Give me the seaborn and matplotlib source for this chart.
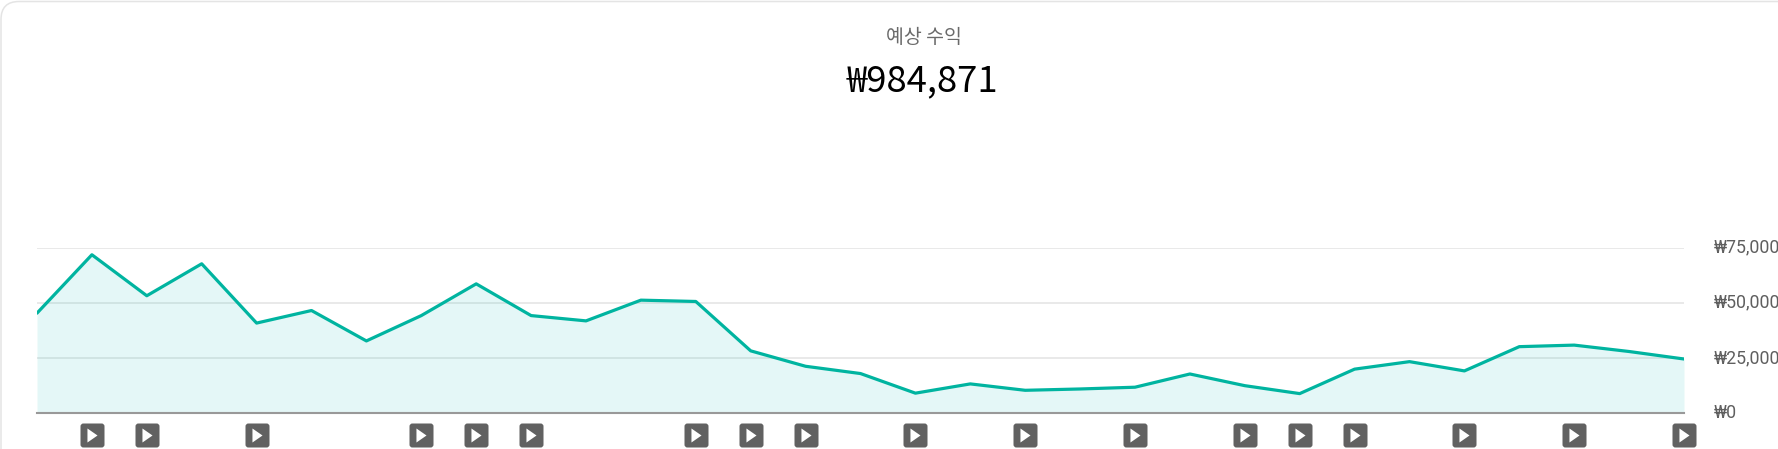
import matplotlib
matplotlib.use("Agg")
import matplotlib.pyplot as plt
from matplotlib.patches import FancyBboxPatch
from matplotlib.path import Path
import pandas as pd
import seaborn as sns

title = "예상 수익"
total = "₩984,871"
revenue = [45300, 71800, 53200, 67700, 40800, 46500, 32700, 44200, 58600, 44200,
           41800, 51200, 50600, 28200, 21200, 17900, 9000, 13200, 10300, 10900,
           11700, 17700, 12400, 8800, 19900, 23300, 19100, 30100, 30800, 27900, 24500]
events = [1, 2, 4, 7, 8, 9, 12, 13, 14, 16, 18, 20, 22, 23, 24, 26, 28, 30]
y_ticks = [0, 25000, 50000, 75000]
y_labels = ["₩0", "₩25,000", "₩50,000", "₩75,000"]

sns.set_theme(style="white")
plt.rcParams["font.family"] = ["Roboto", "Noto Sans CJK KR", "DejaVu Sans"]

df = pd.DataFrame({"day": range(len(revenue)), "revenue": revenue})

fig = plt.figure(figsize=(17.78, 4.49), dpi=100)
ax = fig.add_axes([37 / 1778, 36 / 449, 1647 / 1778, 165.3 / 449])

# rounded card outline, runs off the right and bottom edges
card = FancyBboxPatch((1, -40), 1900, 40 + 447.5, boxstyle="round,pad=0,rounding_size=18",
                      transform=None, fc="white", ec="#e4e4e4", lw=1.1, zorder=-5)
fig.patches.append(card)
ax.patch.set_alpha(0)

ax.yaxis.grid(True, color="#e9e9e9", lw=1.4, zorder=0)
ax.set_axisbelow(True)
ax.fill_between(df["day"], df["revenue"], color="#00bab5", alpha=0.105, lw=0, zorder=1)
sns.lineplot(data=df, x="day", y="revenue", color="#00b4a0", lw=2.3, ax=ax, zorder=2)

ax.set_xlim(0, len(revenue) - 1)
ax.set_ylim(0, 75000)
ax.set_xticks([])
ax.set_xlabel("")
ax.set_ylabel("")
ax.yaxis.tick_right()
ax.set_yticks(y_ticks)
ax.set_yticklabels(y_labels, color="#5f5f5f", fontsize=12.8, va="center")
ax.tick_params(axis="y", length=0, pad=21.5)
for name in ["top", "left", "right"]:
    ax.spines[name].set_visible(False)
ax.spines["bottom"].set_color("#999999")
ax.spines["bottom"].set_linewidth(1.5)

# play buttons under the axis
r = 0.12
box = Path(
    [(-0.5 + r, -0.5), (0.5 - r, -0.5), (0.5, -0.5), (0.5, -0.5 + r), (0.5, 0.5 - r), (0.5, 0.5),
     (0.5 - r, 0.5), (-0.5 + r, 0.5), (-0.5, 0.5), (-0.5, 0.5 - r), (-0.5, -0.5 + r), (-0.5, -0.5),
     (-0.5 + r, -0.5), (-0.5 + r, -0.5)],
    [Path.MOVETO, Path.LINETO, Path.CURVE3, Path.CURVE3, Path.LINETO, Path.CURVE3,
     Path.CURVE3, Path.LINETO, Path.CURVE3, Path.CURVE3, Path.LINETO, Path.CURVE3,
     Path.CURVE3, Path.CLOSEPOLY],
)
tri = Path([(-0.36, -0.5), (0.36, 0.0), (-0.36, 0.5), (-0.36, -0.5)], closed=True)
button_y = [-10200] * len(events)
ax.scatter(events, button_y, marker=box, s=(24 * 0.72) ** 2, color="#616161", lw=0,
           clip_on=False, zorder=3)
ax.scatter(events, button_y, marker=tri, s=(14 * 0.72) ** 2, color="white", lw=0,
           clip_on=False, zorder=4)

fig.text(923.5 / 1778, 1 - 37.5 / 449, title, ha="center", va="center", fontsize=14,
         color="#6a6a6a", family=["Noto Sans CJK KR", "DejaVu Sans"])
fig.text(922 / 1778, 1 - 81 / 449, total, ha="center", va="center", fontsize=26.2,
         color="#000000", family=["Noto Sans CJK KR", "DejaVu Sans"])

plt.savefig("out.png", dpi=100)
